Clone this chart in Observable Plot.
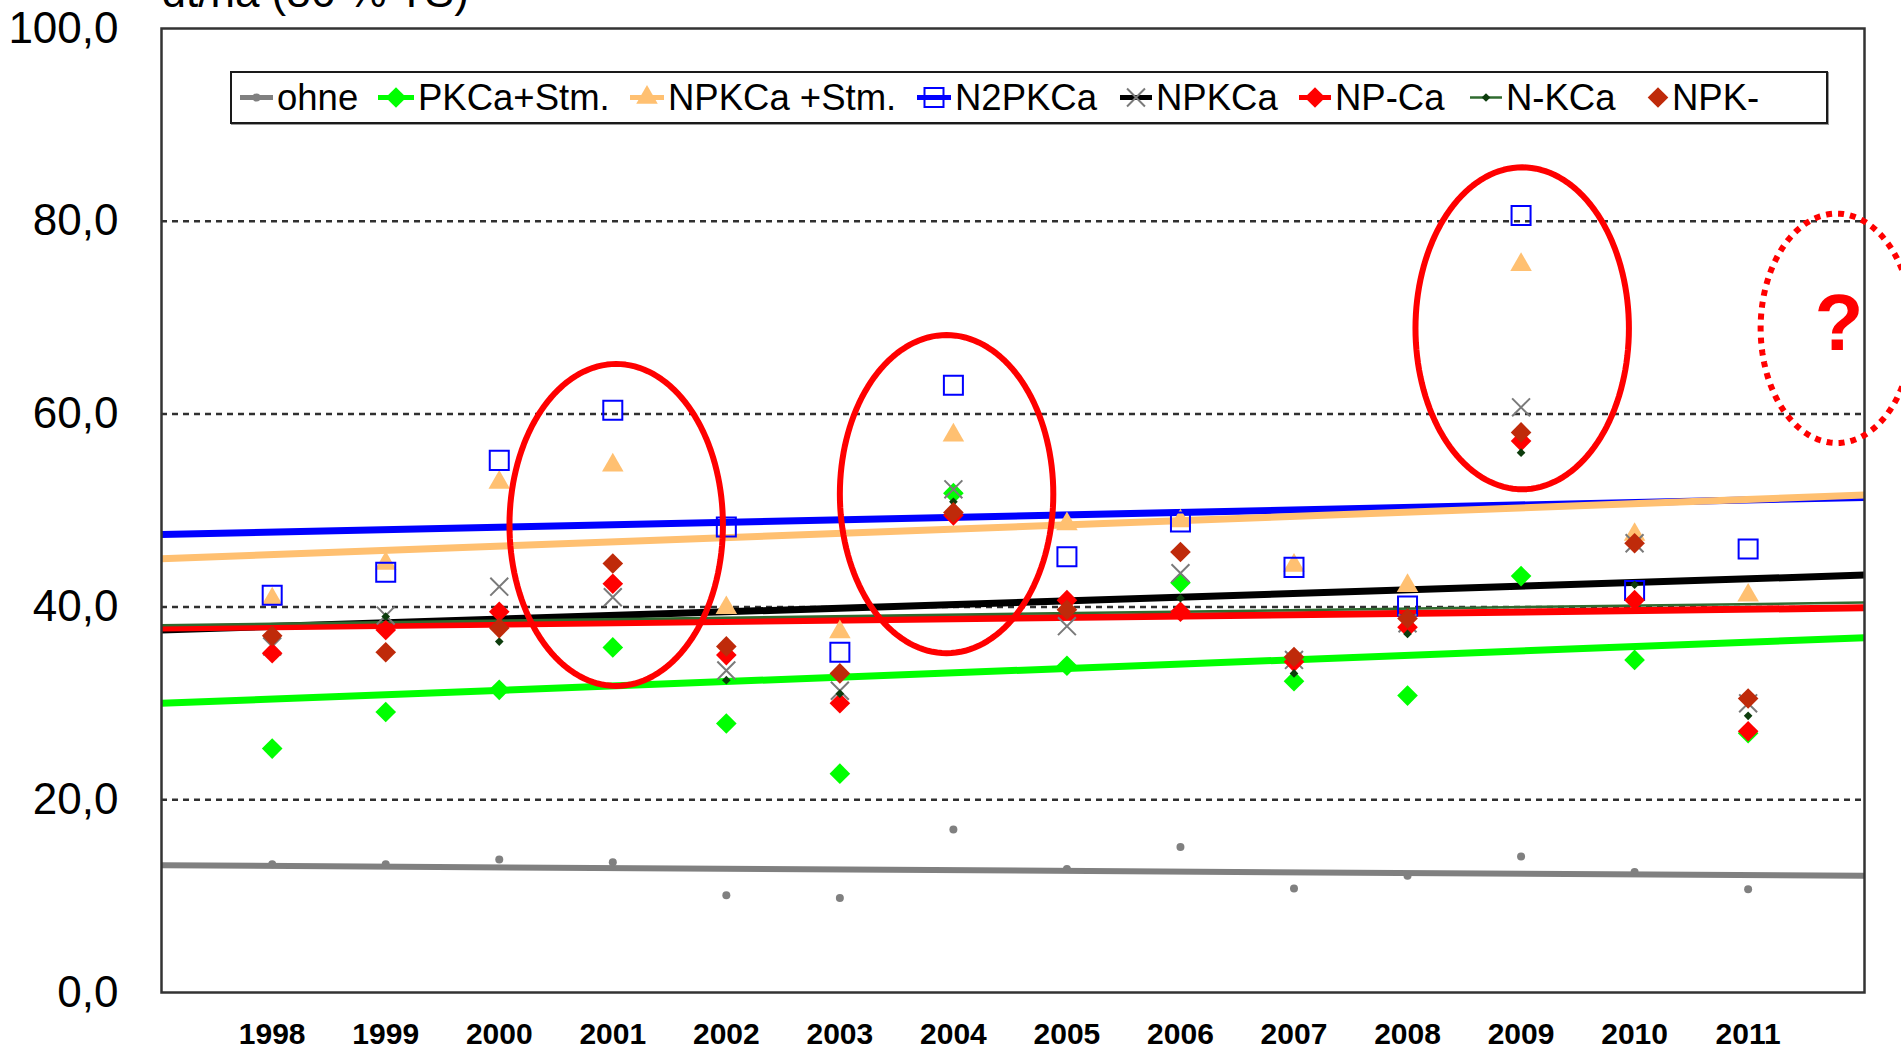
<!DOCTYPE html>
<html>
<head>
<meta charset="utf-8">
<script src="https://cdn.jsdelivr.net/npm/d3@7"></script>
<script src="https://cdn.jsdelivr.net/npm/@observablehq/plot@0.6"></script>
<style>
html, body { margin: 0; padding: 0; background: #fff; overflow: hidden; }
#wrap { position: relative; width: 1901px; height: 1051px; font-family: "Liberation Sans", Arial, sans-serif; }
#wrap > svg { position: absolute; left: 0; top: 0; }
#legend { position: absolute; left: 230px; top: 71px; width: 1594px; height: 49px; border: 2px solid #1a1a1a; background: #fff; box-shadow: 1px 1px 0 #999; }
.item { position: absolute; top: 0; height: 49px; display: flex; align-items: center; font-size: 36.5px; color: #000; white-space: pre; }
.item svg { display: block; }
</style>
</head>
<body>
<div id="wrap"></div>
<script>
// ---------- data ----------
const years = [1998, 1999, 2000, 2001, 2002, 2003, 2004, 2005, 2006, 2007, 2008, 2009, 2010, 2011];

const ohne     = [13.3, 13.3, 13.8, 13.5, 10.1,  9.8, 16.9, 12.8, 15.1, 10.8, 12.1, 14.1, 12.5, 10.7];
const pkcaStm  = [25.3, 29.1, 31.4, 35.8, 27.9, 22.7, 51.8, 33.9, 42.5, 32.3, 30.8, 43.2, 34.5, 26.9];
const npkcaStm = [40.8, 44.5, 52.9, 54.7, 39.9, 37.4, 57.8, 48.6, 48.9, 44.3, 42.2, 75.5, 47.5, 41.2];
const n2pkca   = [41.2, 43.6, 55.2, 60.4, 48.3, 35.3, 63.0, 45.2, 48.8, 44.1, 40.1, 80.6, 41.7, 46.0];
const npkca    = [35.9, 39.1, 42.1, 41.0, 33.4, 31.3, 52.2, 38.0, 43.5, 34.5, 38.3, 60.7, 46.6, 30.0];
const npCa     = [35.2, 37.6, 39.5, 42.4, 35.0, 30.0, 49.5, 40.7, 39.5, 34.3, 37.9, 57.2, 40.7, 27.1];
const nKca     = [37.4, 39.0, 36.4, 44.7, 32.4, 31.0, 50.9, 39.3, 40.9, 33.1, 37.2, 56.0, 42.3, 28.7];
const npk      = [37.0, 35.3, 37.8, 44.5, 35.9, 33.1, 49.8, 39.7, 45.7, 34.8, 38.8, 58.1, 46.6, 30.5];

// linear trend lines (read at the left and right frame edges)
const trendYears    = [1997.025, 2012.025];
const trendOhne     = [13.2, 12.1];
const trendPkcaStm  = [30.0, 36.8];
const trendNpkcaStm = [45.0, 51.6];
const trendN2pkca   = [47.5, 51.35];
const trendNpkca    = [37.6, 43.3];
const trendNpCa     = [37.8, 39.9];
const trendNKca     = [38.1, 40.45];

const seriesNames = ["ohne", "PKCa+Stm.", "NPKCa +Stm.", "N2PKCa", "NPKCa", "NP-Ca", "N-KCa", "NPK-"];
const seriesValues = [ohne, pkcaStm, npkcaStm, n2pkca, npkca, npCa, nKca, npk];
const trendValues = [trendOhne, trendPkcaStm, trendNpkcaStm, trendN2pkca, trendNpkca, trendNpCa, trendNKca, null];
const trendDrawOrder = ["ohne", "PKCa+Stm.", "N2PKCa", "NPKCa +Stm.", "NPKCa", "NP-Ca", "N-KCa"];

const yTicks = [0, 20, 40, 60, 80, 100];
const gridValues = [20, 40, 60, 80];
const yUnitLabel = "dt/ha (86 % TS)";

// annotations
const ellipseYears  = [2001.03, 2003.94, 2009.01, 2011.78];
const ellipseValues = [48.5, 51.7, 68.9, 68.9];
const ellipseRX     = [0.94, 0.94, 0.94, 0.67];
const ellipseRY     = [16.7, 16.5, 16.7, 11.9];
const ellipseDotted = [false, false, false, true];
const noteText   = ["?"];
const noteYears  = [2011.80];
const noteValues = [69.3];

// ---------- styles ----------
const style = {
  "ohne":        {symbol: "circle",   r: 4.0,  fill: "#808080", stroke: "none",    sw: 0, line: "#808080", lw: 6},
  "PKCa+Stm.":   {symbol: "diamond2", r: 9.3,  fill: "#00FF00", stroke: "none",    sw: 0, line: "#00FF00", lw: 7},
  "NPKCa +Stm.": {symbol: "triangle", r: 8.0,  fill: "#FFC071", stroke: "none",    sw: 0, line: "#FFC071", lw: 7},
  "N2PKCa":      {symbol: "square2",  r: 12.1, fill: "none",    stroke: "#0000FF", sw: 2, line: "#0000FF", lw: 7},
  "NPKCa":       {symbol: "times",    r: 8.2,  fill: "none",    stroke: "#7a7a7a", sw: 2, line: "#000000", lw: 7},
  "NP-Ca":       {symbol: "diamond2", r: 9.3,  fill: "#FF0000", stroke: "none",    sw: 0, line: "#FF0000", lw: 7},
  "N-KCa":       {symbol: "diamond2", r: 3.9,  fill: "#0d3d0d", stroke: "none",    sw: 0, line: "#2f6b2f", lw: 2.5},
  "NPK-":        {symbol: "diamond2", r: 9.3,  fill: "#BF2A0A", stroke: "none",    sw: 0, line: null,      lw: 0}
};
const d3Symbols = {circle: d3.symbolCircle, diamond2: d3.symbolDiamond2, triangle: d3.symbolTriangle, square2: d3.symbolSquare2, times: d3.symbolTimes};

// ---------- tables ----------
const pointRows = seriesNames.map((name, i) => years.map((yr, j) => ({series: name, year: yr, value: seriesValues[i][j]})));
const trendRows = {};
seriesNames.forEach((name, i) => {
  if (trendValues[i]) trendRows[name] = trendYears.map((yr, j) => ({series: name, year: yr, value: trendValues[i][j]}));
});
const ellipseRows = ellipseYears.map((cx, k) => d3.range(0, 145).map(i => {
  const t = i / 144 * 2 * Math.PI;
  return {year: cx + ellipseRX[k] * Math.cos(t), value: ellipseValues[k] + ellipseRY[k] * Math.sin(t)};
}));
const noteRows = noteText.map((t, i) => ({text: t, year: noteYears[i], value: noteValues[i]}));

// ---------- marks ----------
const marks = [];
marks.push(Plot.ruleY(gridValues, {stroke: "#303030", strokeWidth: 2.5, strokeDasharray: "6,5"}));
trendDrawOrder.forEach(name => {
  const st = style[name];
  marks.push(Plot.line(trendRows[name], {x: "year", y: "value", stroke: st.line, strokeWidth: st.lw, strokeLinecap: "butt"}));
});
seriesNames.forEach((name, i) => {
  const st = style[name];
  marks.push(Plot.dot(pointRows[i], {x: "year", y: "value", symbol: st.symbol, r: st.r, fill: st.fill, stroke: st.stroke, strokeWidth: st.sw}));
});
marks.push(Plot.frame({stroke: "#333", strokeWidth: 2.5}));
ellipseRows.forEach((rows, k) => {
  marks.push(Plot.line(rows, {x: "year", y: "value", curve: "linear-closed", stroke: "#FF0000",
    strokeWidth: 6,
    strokeDasharray: ellipseDotted[k] ? "6,6" : null, strokeLinecap: "butt"}));
});
marks.push(Plot.text(noteRows, {x: "year", y: "value", text: "text", fill: "#FF0000", fontSize: 80, fontWeight: "bold", lineAnchor: "middle"}));
marks.push(Plot.text([yUnitLabel], {frameAnchor: "top-left", text: d => d, dy: -22, lineAnchor: "bottom", textAnchor: "start", fontSize: 44, fill: "#000"}));
marks.push(Plot.axisY({ticks: yTicks, tickFormat: d => d.toFixed(1).replace(".", ","), fontSize: 44, tickSize: 0, tickPadding: 43, label: null}));
marks.push(Plot.axisX({ticks: years, tickFormat: "d", fontSize: 30, fontWeight: "bold", tickSize: 0, tickPadding: 30, label: null}));

const chart = Plot.plot({
  width: 1901,
  height: 1051,
  marginLeft: 161,
  marginRight: 37,
  marginTop: 28,
  marginBottom: 59,
  x: {domain: trendYears},
  y: {domain: [0, 100]},
  style: {fontFamily: "'Liberation Sans', Arial, sans-serif", background: "white", color: "black"},
  marks
});
const wrap = document.getElementById("wrap");
wrap.appendChild(chart);

// ---------- legend (overlay) ----------
const legendLayout = [[240, 277], [378, 418], [630, 668], [917, 955], [1120, 1156], [1299, 1335], [1470, 1506], [1644, 1672]];
const legend = d3.select(wrap).append("div").attr("id", "legend");
seriesNames.forEach((name, i) => {
  const st = style[name];
  const [sx, tx] = legendLayout[i];
  const w = tx - sx;
  const item = legend.append("div").attr("class", "item").style("left", (sx - 232) + "px");
  const svg = item.append("svg").attr("width", w).attr("height", 49);
  const cx = st.line ? (w - 4) / 2 : w / 2;
  if (st.line) {
    svg.append("line").attr("x1", 0).attr("x2", w - 4).attr("y1", 24.5).attr("y2", 24.5)
      .attr("stroke", st.line).attr("stroke-width", Math.min(st.lw, 5));
  }
  svg.append("path")
    .attr("d", d3.symbol(d3Symbols[st.symbol], Math.PI * st.r * st.r)())
    .attr("transform", `translate(${cx},24.5)`)
    .attr("fill", st.fill)
    .attr("stroke", st.stroke)
    .attr("stroke-width", st.sw);
  item.append("span").text(name);
});
</script>
</body>
</html>
